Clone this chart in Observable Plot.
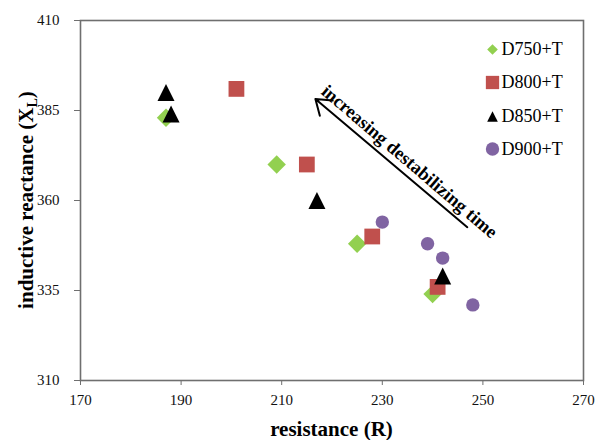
<!DOCTYPE html>
<html><head><meta charset="utf-8">
<script src="https://cdn.jsdelivr.net/npm/d3@7"></script>
<script src="https://cdn.jsdelivr.net/npm/@observablehq/plot@0.6"></script>
<style>
body{margin:0;background:#fff}
#chart{position:relative;width:596px;height:440px}
#chart svg, #chart svg text{font-family:'Liberation Serif','Times New Roman',serif !important}
</style>
</head><body><div id="chart"></div>
<script>
// ---- data ----
const seriesNames = ["D750+T", "D800+T", "D850+T", "D900+T"];
const d750X = [187, 209, 225, 240];
const d750Y = [383, 370, 348, 334];
const d800X = [201, 215, 228, 241];
const d800Y = [391, 370, 350, 336];
const d850X = [187, 188, 217, 242];
const d850Y = [390, 384, 360, 339];
const d900X = [230, 239, 242, 248];
const d900Y = [354, 348, 344, 331];
const xTicks = [170, 190, 210, 230, 250, 270];
const yTicks = [310, 335, 360, 385, 410];
const xTitle = "resistance (R)";
const yTitle = "inductive reactance (X";
const ySub = "L";
const annotationLabel = "increasing destabilizing time";
const arrowFrom = [246.9, 352.6];
const arrowTo = [216.7, 388.2];
const annotationAt = [235.4, 370.8];

const seriesX = [d750X, d800X, d850X, d900X];
const seriesY = [d750Y, d800Y, d850Y, d900Y];

// ---- styles ----
const excelTriangle = {
  draw(context, size) {
    const s = Math.sqrt(size / Math.PI);
    context.moveTo(0, -s);
    context.lineTo(s, s);
    context.lineTo(-s, s);
    context.closePath();
  }
};
const styles = [
  {symbol: "diamond2", fill: "#92d050", r: 8.3, lr: 4.8, ly: 49},
  {symbol: "square", fill: "#c0504d", r: 8.9, lr: 7.5, ly: 82},
  {symbol: excelTriangle, fill: "#000000", r: 8.5, lr: 5.3, ly: 116},
  {symbol: "circle", fill: "#8064a2", r: 6.7, lr: 6.7, ly: 148.5}
];

const data = seriesNames.map((name, i) => seriesX[i].map((x, j) => ({series: name, x, y: seriesY[i][j]})));

const marks = [
  Plot.frame({stroke: "#6f6f6f", strokeWidth: 1.6}),
  Plot.axisX({ticks: xTicks, tickSize: 5, tickPadding: 9, label: null, stroke: "#6f6f6f", tickFormat: d => String(d)}),
  Plot.axisY({ticks: yTicks, tickSize: 6, tickPadding: 15, label: null, stroke: "#6f6f6f", tickFormat: d => String(d)}),
  Plot.arrow([{x1: arrowFrom[0], y1: arrowFrom[1], x2: arrowTo[0], y2: arrowTo[1]}], {
    x1: "x1", y1: "y1", x2: "x2", y2: "y2", stroke: "#000", strokeWidth: 2, headLength: 13, headAngle: 70
  }),
  Plot.text([annotationLabel], {
    x: () => annotationAt[0], y: () => annotationAt[1], text: d => d, rotate: 40.5,
    fontWeight: "bold", fontSize: 18.5, fill: "#000", textAnchor: "middle", lineAnchor: "middle"
  })
];
data.forEach((rows, i) => {
  const st = styles[i];
  marks.push(Plot.dot(rows, {x: "x", y: "y", symbol: st.symbol, fill: st.fill, r: st.r, stroke: "none"}));
});
// legend (inside plot frame, top right)
seriesNames.forEach((name, i) => {
  const st = styles[i];
  marks.push(Plot.dot([name], {frameAnchor: "top-left", dx: 412, dy: st.ly - 20, symbol: st.symbol, fill: st.fill, r: st.lr}));
  marks.push(Plot.text([name], {frameAnchor: "top-left", dx: 421, dy: st.ly - 20, text: d => d, textAnchor: "start", lineAnchor: "middle", fontSize: 18, fill: "#000"}));
});

const chart = Plot.plot({
  width: 596, height: 440,
  marginLeft: 80, marginTop: 20, marginRight: 13, marginBottom: 60,
  x: {domain: [170, 270]},
  y: {domain: [310, 410]},
  style: {fontFamily: "'Liberation Serif', 'Times New Roman', serif", fontSize: "15px", color: "#111", background: "#fff"},
  marks
});
document.getElementById("chart").appendChild(chart);

const svg = d3.select(chart);
svg.append("text")
  .attr("x", 331.5).attr("y", 436)
  .attr("text-anchor", "middle")
  .attr("font-weight", "bold").attr("font-size", 21).attr("fill", "#000")
  .text(xTitle);
const yt = svg.append("text")
  .attr("transform", "translate(33,200) rotate(-90)")
  .attr("text-anchor", "middle")
  .attr("font-weight", "bold").attr("font-size", 21).attr("fill", "#000");
yt.append("tspan").text(yTitle);
yt.append("tspan").attr("font-size", 14).attr("dy", 4).text(ySub);
yt.append("tspan").attr("dy", -4).text(")");
</script>
</body></html>
